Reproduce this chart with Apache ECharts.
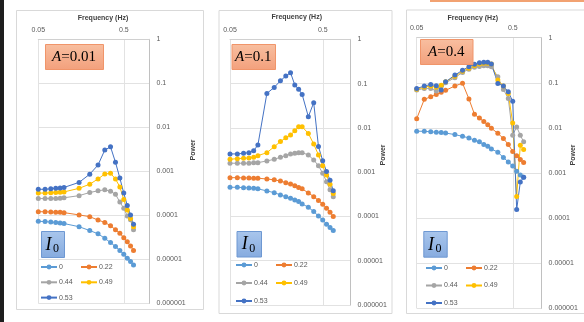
<!DOCTYPE html>
<html><head><meta charset="utf-8">
<script src="https://cdn.jsdelivr.net/npm/echarts@6/dist/echarts.min.js"></script>
<style>html,body{margin:0;padding:0;background:#fff}#c{width:584px;height:322px}</style>
</head><body><div id="c"></div>
<script>
// Power spectra at three forcing amplitudes A, one curve per intensity I0
const seriesNames = ['0', '0.22', '0.44', '0.49', '0.53'];
const seriesColors = ['#5B9BD5', '#ED7D31', '#A5A5A5', '#FFC000', '#4472C4'];
const ampLabels = ['0.01', '0.1', '0.4'];
const freqTicks = [0.05, 0.5];
const powerTicks = [1, 0.1, 0.01, 0.001, 0.0001, 0.00001, 0.000001];

// frequencies (Hz)
const freqA = [0.05, 0.06, 0.07, 0.08, 0.09, 0.1, 0.15, 0.2, 0.25, 0.3, 0.35, 0.4, 0.45, 0.5, 0.55, 0.6, 0.65];
const freqB = [0.05, 0.06, 0.07, 0.08, 0.09, 0.1, 0.125, 0.15, 0.175, 0.2, 0.225, 0.25, 0.275, 0.3, 0.35, 0.4, 0.45, 0.5, 0.55, 0.6, 0.65];

// A = 0.01
const a001_i0 = [7.3e-5, 7.2e-5, 7.0e-5, 6.9e-5, 6.7e-5, 6.5e-5, 5.5e-5, 4.5e-5, 3.8e-5, 3.0e-5, 2.4e-5, 1.95e-5, 1.58e-5, 1.3e-5, 1.05e-5, 8.9e-6, 7.4e-6];
const a001_i22 = [1.21e-4, 1.2e-4, 1.19e-4, 1.18e-4, 1.17e-4, 1.15e-4, 1.02e-4, 9.3e-5, 7.8e-5, 6.9e-5, 5.8e-5, 4.7e-5, 3.9e-5, 3.1e-5, 2.5e-5, 2.0e-5, 1.58e-5];
const a001_i44 = [2.4e-4, 2.4e-4, 2.4e-4, 2.4e-4, 2.45e-4, 2.5e-4, 2.8e-4, 3.3e-4, 3.6e-4, 3.8e-4, 3.5e-4, 3.0e-4, 2.0e-4, 1.44e-4, 9.6e-5, 7.9e-5, 4.7e-5];
const a001_i49 = [3.2e-4, 3.2e-4, 3.25e-4, 3.3e-4, 3.35e-4, 3.4e-4, 4.1e-4, 5.1e-4, 6.7e-4, 8.7e-4, 9.0e-4, 6.7e-4, 4.4e-4, 2.3e-4, 1.32e-4, 8.5e-5, 5.5e-5];
const a001_i53 = [3.9e-4, 3.9e-4, 4.0e-4, 4.1e-4, 4.2e-4, 4.3e-4, 5.6e-4, 8.6e-4, 1.39e-3, 3.05e-3, 3.6e-3, 1.6e-3, 7.0e-4, 3.2e-4, 1.66e-4, 1.02e-4, 6.3e-5];

// A = 0.1
const a01_i0 = [4.56e-4, 4.56e-4, 4.47e-4, 4.4e-4, 4.33e-4, 4.2e-4, 3.77e-4, 3.44e-4, 3.06e-4, 2.8e-4, 2.58e-4, 2.36e-4, 2.16e-4, 1.92e-4, 1.61e-4, 1.29e-4, 1.02e-4, 8.3e-5, 6.7e-5, 5.6e-5, 4.8e-5];
const a01_i22 = [7.5e-4, 7.5e-4, 7.4e-4, 7.4e-4, 7.3e-4, 7.3e-4, 7.0e-4, 6.7e-4, 6.3e-4, 5.8e-4, 5.4e-4, 4.96e-4, 4.5e-4, 4.2e-4, 3.4e-4, 2.8e-4, 2.3e-4, 1.88e-4, 1.53e-4, 1.24e-4, 1.0e-4];
const a01_i44 = [1.59e-3, 1.59e-3, 1.59e-3, 1.59e-3, 1.62e-3, 1.64e-3, 1.79e-3, 1.95e-3, 2.17e-3, 2.36e-3, 2.58e-3, 2.67e-3, 2.75e-3, 2.75e-3, 2.45e-3, 1.88e-3, 1.4e-3, 9.4e-4, 6.1e-4, 4.0e-4, 2.8e-4];
const a01_i49 = [1.95e-3, 2.02e-3, 2.06e-3, 2.09e-3, 2.17e-3, 2.36e-3, 2.75e-3, 3.76e-3, 4.9e-3, 6.0e-3, 6.9e-3, 8.6e-3, 1.06e-2, 1.06e-2, 7.5e-3, 4.3e-3, 2.45e-3, 1.4e-3, 8.6e-4, 5.3e-4, 3.3e-4];
const a01_i53 = [2.58e-3, 2.58e-3, 2.67e-3, 2.75e-3, 3.06e-3, 4.1e-3, 0.060, 0.082, 0.116, 0.148, 0.176, 0.093, 0.074, 0.057, 0.0179, 0.037, 3.8e-3, 1.82e-3, 1.03e-3, 6.6e-4, 3.8e-4];

// A = 0.4
const a04_i0 = [8.45e-3, 8.4e-3, 8.2e-3, 8.0e-3, 7.9e-3, 7.7e-3, 7.1e-3, 6.5e-3, 6.0e-3, 5.3e-3, 4.9e-3, 4.3e-3, 3.9e-3, 3.4e-3, 2.9e-3, 2.2e-3, 1.76e-3, 1.43e-3, 1.1e-3, 9.0e-4, 8.0e-4];
const a04_i22 = [0.016, 0.043, 0.049, 0.055, 0.062, 0.068, 0.085, 0.098, 0.044, 0.020, 0.0165, 0.0138, 0.0118, 0.0098, 0.0076, 0.0058, 0.0043, 0.0030, 0.0024, 0.0020, 0.0017];
const a04_i44 = [0.069, 0.075, 0.075, 0.066, 0.084, 0.1, 0.13, 0.17, 0.2, 0.22, 0.23, 0.24, 0.24, 0.227, 0.136, 0.071, 0.045, 6.9e-3, 0.0105, 6.9e-3, 4.9e-3];
const a04_i49 = [0.072, 0.08, 0.085, 0.08, 0.088, 0.105, 0.14, 0.18, 0.21, 0.24, 0.26, 0.27, 0.27, 0.26, 0.115, 0.085, 0.058, 0.0129, 3.0e-4, 4.1e-3, 3.3e-3];
const a04_i53 = [0.075, 0.0845, 0.092, 0.086, 0.069, 0.105, 0.148, 0.19, 0.227, 0.257, 0.278, 0.284, 0.284, 0.26, 0.097, 0.085, 0.063, 0.039, 1.55e-4, 6.3e-4, 8.0e-4];

const panels = [
  { freq: freqA, curves: [a001_i0, a001_i22, a001_i44, a001_i49, a001_i53] },
  { freq: freqB, curves: [a01_i0, a01_i22, a01_i44, a01_i49, a01_i53] },
  { freq: freqB, curves: [a04_i0, a04_i22, a04_i44, a04_i49, a04_i53] }
];

// layout of the three chart panels
const frames = [
  { box: [16, 10, 187, 299], grid: [38.3, 39.3, 111.2, 264], ampBox: [45, 44, 58, 25], i0Box: [41, 231, 23, 26],
    legendTop: 263, legendLeft: [40, 80], legendGap: 7.3, title: [103, 18], power: [193, 150] },
  { box: [218.5, 10, 173, 303], grid: [230, 39.3, 120.6, 265.7], ampBox: [231.5, 44, 43.5, 25], i0Box: [236.5, 231, 24.5, 25.5],
    legendTop: 261, legendLeft: [235, 275], legendGap: 10, title: [296.7, 17], power: [382.7, 155] },
  { box: [406, 9.5, 190, 303.5], grid: [416.7, 37.7, 124.9, 270.6], ampBox: [420, 39, 52.5, 25], i0Box: [423.3, 231, 23.4, 25.7],
    legendTop: 264, legendLeft: [425, 465], legendGap: 9.5, title: [472.7, 18.3], power: [573.3, 155] }
];

const labelFont = 'Liberation Sans, Arial, sans-serif';
const serifFont = 'Liberation Serif, Times New Roman, serif';

function powerLabel(v) {
  const e = Math.round(Math.log10(v));
  return e >= 0 ? String(Math.round(v)) : v.toFixed(-e);
}

const grid = [], xAxis = [], yAxis = [], series = [], legend = [], graphic = [];

frames.forEach((f, p) => {
  grid.push({ left: f.grid[0], top: f.grid[1], width: f.grid[2], height: f.grid[3], containLabel: false });
  xAxis.push({
    type: 'log', logBase: 10, gridIndex: p, position: 'top', min: freqTicks[0], max: 1, interval: 1,
    axisLine: { show: true, lineStyle: { color: '#d0d0d0', width: 1 } },
    axisTick: { show: false },
    splitLine: { show: true, lineStyle: { color: '#e2e2e2', width: 1 } },
    axisLabel: { show: true, margin: 6, showMaxLabel: false, fontSize: 7, color: '#595959', fontFamily: labelFont,
      formatter: v => String(+(+v).toPrecision(1)) }
  });
  yAxis.push({
    type: 'log', logBase: 10, gridIndex: p, position: 'right', min: powerTicks[powerTicks.length - 1], max: powerTicks[0], interval: 1,
    axisLine: { show: true, lineStyle: { color: '#c0c0c0', width: 1 } },
    axisTick: { show: false },
    splitLine: { show: true, lineStyle: { color: '#e2e2e2', width: 1 } },
    axisLabel: { margin: 7, fontSize: 7, color: '#595959', fontFamily: labelFont, formatter: powerLabel }
  });
  const panel = panels[p];
  panel.curves.forEach((vals, k) => {
    series.push({
      type: 'line', name: seriesNames[k], xAxisIndex: p, yAxisIndex: p,
      data: panel.freq.map((fr, j) => [fr, vals[j]]),
      symbol: 'circle', symbolSize: 5, showSymbol: true,
      lineStyle: { width: 1, color: seriesColors[k] },
      itemStyle: { color: seriesColors[k] },
      animation: false, silent: true
    });
  });
  const lgCommon = {
    orient: 'vertical', top: f.legendTop, itemWidth: 16, itemHeight: 6, itemGap: f.legendGap,
    selectedMode: false, padding: 0,
    textStyle: { fontSize: 7, lineHeight: 8, color: '#595959', fontFamily: labelFont, padding: [0, 0, 0, -3] }
  };
  legend.push(Object.assign({}, lgCommon, { left: f.legendLeft[0], data: [seriesNames[0], seriesNames[2], seriesNames[4]] }));
  legend.push(Object.assign({}, lgCommon, { left: f.legendLeft[1], data: [seriesNames[1], seriesNames[3]] }));

  // panel frame
  graphic.push({ type: 'rect', shape: { x: f.box[0] + 0.5, y: f.box[1] + 0.5, width: f.box[2], height: f.box[3] },
    style: { fill: 'none', stroke: '#d9d9d9', lineWidth: 1 }, z: 0, silent: true });
  // axis titles
  graphic.push({ type: 'text', x: f.title[0], y: f.title[1],
    style: { text: 'Frequency (Hz)', font: 'bold 7px ' + labelFont, fill: '#404040', align: 'center', verticalAlign: 'middle' }, z: 10 });
  graphic.push({ type: 'text', x: f.power[0], y: f.power[1], rotation: Math.PI / 2,
    style: { text: 'Power', font: 'bold 7px ' + labelFont, fill: '#404040', align: 'center', verticalAlign: 'middle' }, z: 10 });
  // amplitude tag
  const ab = f.ampBox;
  graphic.push({ type: 'rect', shape: { x: ab[0] + 0.5, y: ab[1] + 0.5, width: ab[2], height: ab[3] },
    style: { fill: { type: 'linear', x: 0, y: 0, x2: 0, y2: 1, colorStops: [{ offset: 0, color: '#F8BFA0' }, { offset: 1, color: '#F3A07C' }] },
      stroke: '#F0956A', lineWidth: 1 }, z: 20 });
  graphic.push({ type: 'text', x: ab[0] + ab[2] / 2, y: ab[1] + ab[3] / 2 + 1, z: 21,
    style: { text: '{i|A}{n|=' + ampLabels[p] + '}', align: 'center', verticalAlign: 'middle',
      rich: { i: { fontFamily: serifFont, fontSize: 15, fontStyle: 'italic', fill: '#000' },
              n: { fontFamily: serifFont, fontSize: 15, fill: '#000' } } } });
  // intensity tag
  const ib = f.i0Box;
  graphic.push({ type: 'rect', shape: { x: ib[0] + 0.5, y: ib[1] + 0.5, width: ib[2], height: ib[3] },
    style: { fill: { type: 'linear', x: 0, y: 0, x2: 0, y2: 1, colorStops: [{ offset: 0, color: '#A9C6EC' }, { offset: 1, color: '#86ABDF' }] },
      stroke: '#6E98D2', lineWidth: 1 }, z: 20 });
  graphic.push({ type: 'text', x: ib[0] + ib[2] / 2 - 4, y: ib[1] + ib[3] / 2 + 1, z: 21,
    style: { text: 'I', font: 'italic 18px ' + serifFont, fill: '#000', align: 'center', verticalAlign: 'middle' } });
  graphic.push({ type: 'text', x: ib[0] + ib[2] / 2 + 3.5, y: ib[1] + ib[3] / 2 + 5, z: 21,
    style: { text: '0', font: '12px ' + serifFont, fill: '#000', align: 'center', verticalAlign: 'middle' } });
});

// page edge details
graphic.push({ type: 'rect', shape: { x: 0, y: 0, width: 4, height: 322 }, style: { fill: '#1e1e1e' }, z: 0 });
graphic.push({ type: 'rect', shape: { x: 430, y: 0, width: 154, height: 2 }, style: { fill: '#F2A272' }, z: 0 });

const chart = echarts.init(document.getElementById('c'), null, { renderer: 'canvas' });
chart.setOption({
  animation: false,
  backgroundColor: '#ffffff',
  color: seriesColors,
  grid, xAxis, yAxis, series, legend, graphic
});
</script>
</body></html>
